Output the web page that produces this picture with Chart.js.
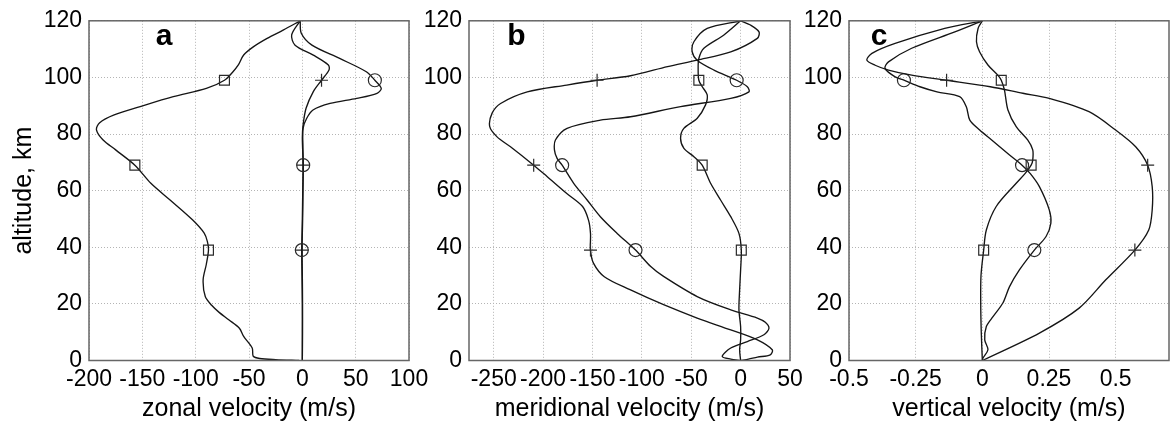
<!DOCTYPE html>
<html>
<head>
<meta charset="utf-8">
<script src="https://cdn.jsdelivr.net/npm/chart.js@4.4.1/dist/chart.umd.min.js"></script>
<style>
  html, body { margin: 0; padding: 0; background: #fff; }
  #wrap { position: relative; width: 1170px; height: 427px; overflow: hidden; }
  #wrap canvas { position: absolute; left: 0; top: 0; }
</style>
</head>
<body>
<div id="wrap">
  <canvas id="panelA" width="1170" height="427"></canvas>
  <canvas id="panelB" width="1170" height="427"></canvas>
  <canvas id="panelC" width="1170" height="427"></canvas>
</div>
<script>
// Axis ticks
const altTicks = [0, 20, 40, 60, 80, 100, 120];
const markerAlts = [39, 69, 99];

const zonalTicks = [-200, -150, -100, -50, 0, 50, 100];
const meridTicks = [-250, -200, -150, -100, -50, 0, 50];
const vertTicks = [-0.5, -0.25, 0, 0.25, 0.5];
const vertTickLabels = ['-0.5', '-0.25', '0', '0.25', '0.5'];

// Panel a: zonal velocity (m/s)
const zonalSquareAlt = [0, 0.3, 0.7, 1.5, 4.4, 8.5, 11.4, 14.4, 17, 19.5, 22.6, 28.5, 34, 39, 42, 45, 49.7, 56.7, 62.6, 69, 74.4, 78, 81.5, 84, 86.7, 89.7, 93.2, 96.1, 99, 102, 104.4, 107.9, 110.8, 113.8, 116.7, 120];
const zonalSquare    = [-3, -25, -40, -46, -47, -55, -59, -69, -78, -85, -91, -93, -90, -88, -89, -92, -103, -124, -142, -157, -175, -187, -193, -190, -177, -152, -121, -90, -73, -65, -60, -55, -46, -33, -18, -2];
const zonalCircleAlt = [0, 10, 20, 30, 39, 50, 60, 69, 76, 82, 85.5, 88.5, 90.8, 92.6, 94.4, 96.1, 99, 102, 106.7, 111.4, 115.6, 120];
const zonalCircle    = [0, 0, 0, -0.3, -0.5, 0, 0.4, 0.8, 0.5, 0.7, 4, 10, 26, 51, 70, 74, 68, 60, 35, 9, -1, -2];
const zonalPlusAlt   = [0, 10, 20, 30, 39, 50, 60, 69, 78.6, 83.2, 89.1, 95, 99, 102.6, 104.4, 107.9, 111.4, 115, 120];
const zonalPlus      = [0, 0.2, 0.2, 0, -0.3, 0.3, 0.6, 0.8, 0, 0.7, 3.5, 10.3, 18, 25, 24.4, 10.3, -6.8, -10, -2];

// Panel b: meridional velocity (m/s)
const meridPlusAlt   = [0, 0.5, 1.2, 2, 3.8, 7.3, 10.8, 15, 19.7, 25, 29.6, 34.4, 39, 44.9, 49.6, 54.4, 59, 65, 69, 75.5, 79, 82.6, 87.3, 90.8, 94.9, 97.3, 99, 100.6, 103.8, 106.1, 109, 113.8, 116.1, 118.5, 120];
const meridPlus      = [0, 8, 17, 30, 32, 17, -10, -44, -78, -112, -138, -149, -152, -152, -154, -160, -176, -196, -209.5, -233, -246.6, -254, -251.7, -243, -216, -176, -145.3, -111.5, -74, -43.9, -10, 16.9, 18.6, 10, 0];
const meridCircleAlt = [0, 0.5, 1.4, 4.4, 6.7, 9.1, 11.4, 13.5, 15, 17.9, 22.6, 29.7, 33.2, 39, 44.9, 50.8, 56.7, 62.6, 69, 71.4, 74.4, 77.9, 82, 84.9, 86.1, 89.7, 92.6, 94.9, 96.7, 99, 102.6, 106.1, 109, 112.6, 117.3, 120];
const meridCircle    = [0, -10, -18.6, -10, 6.8, 23.6, 28.7, 25, 16.9, -10, -44, -78, -91, -106.4, -125, -142, -155.4, -169, -180.7, -185.8, -188.5, -187.5, -175.7, -142, -111.5, -60.8, -10, 8.4, 6.8, -4, -27, -44, -49, -47.3, -33.8, 0];
const meridSquareAlt = [0, 3.8, 7.3, 12, 17.9, 25, 32, 39, 44.9, 50.8, 56.7, 62.6, 69, 72, 74.9, 78.5, 82, 85.6, 90.3, 93.8, 96.7, 99, 103, 106.7, 110.3, 115, 120];
const meridSquare    = [0, -1, 0, 0, -1.7, -1, 0, 0.7, -1.7, -10, -20.3, -30.4, -38.9, -47.3, -57.4, -60.8, -57.5, -43.9, -35.5, -33.8, -38.8, -42.3, -43, -42.3, -37.2, -16.9, 0];

// Panel c: vertical velocity (m/s)
const vertPlusAlt    = [0, 9.7, 18.5, 28.5, 39, 46.1, 53.2, 61.4, 69, 75.5, 81.4, 87.9, 92.6, 94.4, 96.7, 99, 100.8, 102.6, 104.3, 106.1, 108.5, 112, 117.3, 120];
const vertPlus       = [0, 0.214, 0.363, 0.463, 0.572, 0.624, 0.637, 0.637, 0.62, 0.575, 0.5, 0.4, 0.251, 0.152, 0.03, -0.134, -0.265, -0.352, -0.402, -0.433, -0.414, -0.327, -0.141, 0];
const vertSquareAlt  = [0, 10, 20, 30, 39, 46.1, 54.4, 62.6, 66, 69, 70.8, 74.4, 77.9, 82.6, 88.5, 95.5, 99, 100.8, 104.4, 109, 112.6, 117.3, 120];
const vertSquare     = [0, -0.004, -0.006, -0.005, 0.005, 0.015, 0.052, 0.127, 0.16, 0.183, 0.189, 0.189, 0.17, 0.127, 0.096, 0.083, 0.071, 0.058, 0.021, -0.01, -0.022, -0.016, 0];
const vertCircleAlt  = [0, 0.8, 3.8, 7.3, 12, 15.5, 20.3, 26.1, 32, 39, 43.8, 48.5, 53.2, 61.4, 66, 69, 72.6, 77.9, 81.4, 84.9, 89.6, 93.2, 94.9, 96.7, 99, 100.2, 103.2, 105.5, 110.3, 116.1, 120];
const vertCircle     = [0, 0.002, 0.021, 0.009, 0.015, 0.04, 0.077, 0.102, 0.139, 0.195, 0.239, 0.257, 0.251, 0.214, 0.18, 0.149, 0.102, 0.035, -0.01, -0.047, -0.06, -0.085, -0.17, -0.234, -0.294, -0.327, -0.365, -0.352, -0.265, -0.103, 0];

// Styles
const FONT = "'Liberation Sans', Arial, sans-serif";
const LINE = '#151515';
const GRID = '#b4b4b4';
const FRAME = '#666666';
const MARKERS = {
  square: { pointStyle: 'rect', r: 7 },
  circle: { pointStyle: 'circle', r: 6.5 },
  plus:   { pointStyle: 'cross', r: 6.5 }
};

// Box round the plot area and the bold panel letter
const framePlugin = {
  id: 'frame',
  afterDraw(chart, args, opts) {
    const { ctx, chartArea: a } = chart;
    ctx.save();
    ctx.strokeStyle = FRAME;
    ctx.lineWidth = 1.5;
    ctx.strokeRect(a.left, a.top, a.right - a.left, a.bottom - a.top);
    if (opts.letter) {
      ctx.fillStyle = '#000';
      ctx.font = 'bold 30px ' + FONT;
      ctx.textAlign = 'center';
      ctx.textBaseline = 'alphabetic';
      ctx.fillText(opts.letter, a.left + opts.dx, a.top + 24.5);
    }
    ctx.restore();
  }
};

function curve(alt, val, kind) {
  const m = MARKERS[kind];
  return {
    data: alt.map((y, i) => ({ x: val[i], y: y })),
    showLine: true,
    borderColor: LINE,
    borderWidth: 1.35,
    tension: 0.3,
    pointStyle: m.pointStyle,
    pointRadius: ctx => (ctx.raw && markerAlts.includes(ctx.raw.y)) ? m.r : 0,
    pointHoverRadius: 0,
    pointBorderColor: '#2a2a2a',
    pointBorderWidth: 1.2,
    pointBackgroundColor: 'rgba(0,0,0,0)'
  };
}

function makePanel(id, p) {
  const yWidth = p.yTitle ? 80 : 60;
  return new Chart(document.getElementById(id), {
    type: 'scatter',
    data: { datasets: p.curves },
    plugins: [framePlugin],
    options: {
      responsive: false,
      animation: false,
      events: [],
      layout: { padding: { left: p.left - yWidth, right: 1170 - p.right, top: 20.5, bottom: 2.5 } },
      plugins: {
        legend: { display: false },
        tooltip: { enabled: false },
        frame: { letter: p.letter, dx: p.letterDx }
      },
      scales: {
        x: {
          type: 'linear',
          min: p.xMin,
          max: p.xMax,
          afterBuildTicks: s => { s.ticks = p.xTicks.map(v => ({ value: v })); },
          afterFit: s => { s.height = 64; },
          grid: { color: GRID, lineWidth: 1, drawTicks: false },
          border: { display: false, dash: [1, 2] },
          ticks: {
            color: '#000', padding: 5, maxRotation: 0, autoSkip: false,
            font: { family: FONT, size: 23 },
            callback: (v, i) => p.xLabels ? p.xLabels[i] : String(v)
          },
          title: { display: true, text: p.xTitle, color: '#000', padding: 0, font: { family: FONT, size: 25 } }
        },
        y: {
          type: 'linear',
          min: 0,
          max: 120,
          afterBuildTicks: s => { s.ticks = altTicks.map(v => ({ value: v })); },
          afterFit: s => { s.width = yWidth; },
          grid: { color: GRID, lineWidth: 1, drawTicks: false },
          border: { display: false, dash: [1, 2] },
          ticks: { color: '#000', padding: 7, font: { family: FONT, size: 23 } },
          title: { display: !!p.yTitle, text: p.yTitle || '', color: '#000', padding: 0, font: { family: FONT, size: 25 } }
        }
      }
    }
  });
}

makePanel('panelA', {
  left: 89, right: 409, xMin: -200, xMax: 100, xTicks: zonalTicks,
  xTitle: 'zonal velocity (m/s)', yTitle: 'altitude, km', letter: 'a', letterDx: 75,
  curves: [
    curve(zonalSquareAlt, zonalSquare, 'square'),
    curve(zonalCircleAlt, zonalCircle, 'circle'),
    curve(zonalPlusAlt, zonalPlus, 'plus')
  ]
});

makePanel('panelB', {
  left: 469, right: 790, xMin: -275, xMax: 50, xTicks: meridTicks,
  xTitle: 'meridional velocity (m/s)', letter: 'b', letterDx: 47.5,
  curves: [
    curve(meridPlusAlt, meridPlus, 'plus'),
    curve(meridCircleAlt, meridCircle, 'circle'),
    curve(meridSquareAlt, meridSquare, 'square')
  ]
});

makePanel('panelC', {
  left: 849, right: 1169, xMin: -0.5, xMax: 0.7, xTicks: vertTicks, xLabels: vertTickLabels,
  xTitle: 'vertical velocity (m/s)', letter: 'c', letterDx: 30,
  curves: [
    curve(vertPlusAlt, vertPlus, 'plus'),
    curve(vertSquareAlt, vertSquare, 'square'),
    curve(vertCircleAlt, vertCircle, 'circle')
  ]
});
</script>
</body>
</html>
